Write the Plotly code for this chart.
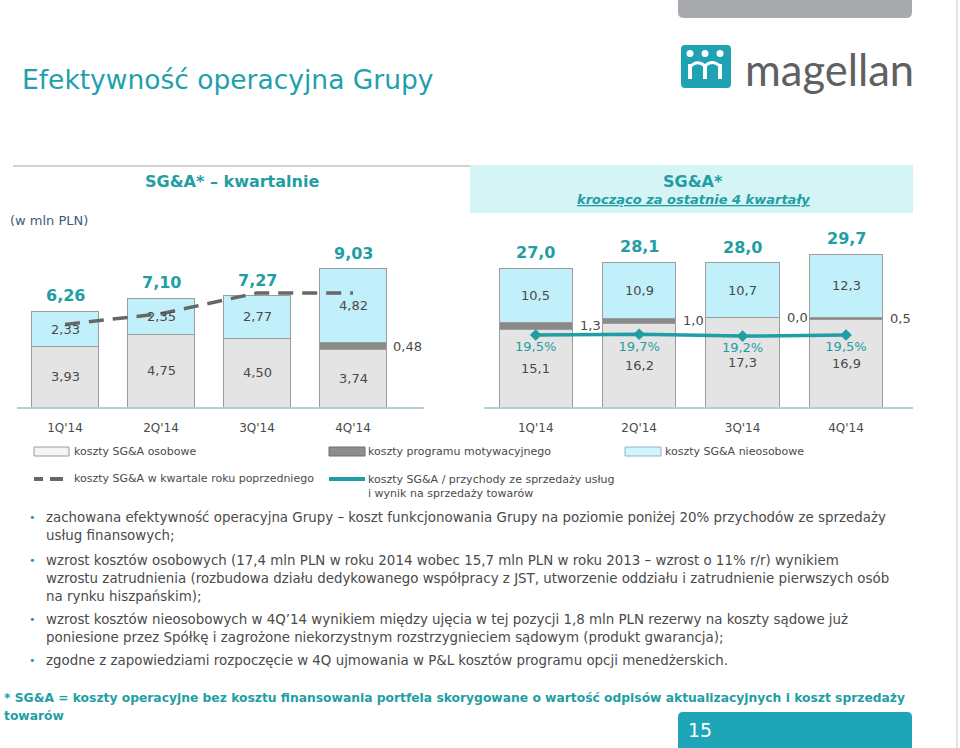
import plotly.graph_objects as go

# ---------------- data ----------------
quarters = ["1Q'14", "2Q'14", "3Q'14", "4Q'14"]

q_osobowe = [3.93, 4.75, 4.50, 3.74]
q_motyw = [None, None, None, 0.48]
q_nieos = [2.33, 2.35, 2.77, 4.82]
q_total = [6.26, 7.10, 7.27, 9.03]
q_prev_year = [5.4, 6.1, 7.45, 7.45]

r_osobowe = [15.1, 16.2, 17.3, 16.9]
r_motyw = [1.3, 1.0, 0.0, 0.5]
r_nieos = [10.5, 10.9, 10.7, 12.3]
r_total = [27.0, 28.1, 28.0, 29.7]
r_ratio = [19.5, 19.7, 19.2, 19.5]

legend_labels = ["koszty SG&A osobowe", "koszty programu motywacyjnego", "koszty SG&A nieosobowe",
                 "koszty SG&A w kwartale roku poprzedniego",
                 "koszty SG&A / przychody ze sprzedaży usług<br>i wynik na sprzedaży towarów"]

bullets = [
    ["zachowana efektywność operacyjna Grupy – koszt funkcjonowania Grupy na poziomie poniżej 20% przychodów ze sprzedaży",
     "usług finansowych;"],
    ["wzrost kosztów osobowych (17,4 mln PLN w roku 2014 wobec 15,7 mln PLN w roku 2013 – wzrost o 11% r/r) wynikiem",
     "wzrostu zatrudnienia (rozbudowa działu dedykowanego współpracy z JST, utworzenie oddziału i zatrudnienie pierwszych osób",
     "na rynku hiszpańskim);"],
    ["wzrost kosztów nieosobowych w 4Q’14 wynikiem między ujęcia w tej pozycji 1,8 mln PLN rezerwy na koszty sądowe już",
     "poniesione przez Spółkę i zagrożone niekorzystnym rozstrzygnieciem sądowym (produkt gwarancja);"],
    ["zgodne z zapowiedziami rozpoczęcie w 4Q ujmowania w P&L kosztów programu opcji menedżerskich."],
]

# ---------------- style ----------------
W, H = 960, 748
FONT = "DejaVu Sans"
TEAL = "#1f9ea3"
GRAY_TXT = "#4a4a4a"
C_OSOB = "#e4e4e4"
C_MOT = "#8a8a8a"
C_NIEOS = "#c2f0fa"
C_EDGE = "#9c9c9c"


def px(x):
    return x / W


def py(y):
    return 1 - y / H


def fmt(v, d):
    return f"{v:.{d}f}".replace(".", ",")


fig = go.Figure()

# ---------- left chart (quarterly) ----------
fig.add_trace(go.Bar(x=quarters, y=q_osobowe, xaxis="x", yaxis="y", width=0.69,
                     marker=dict(color=C_OSOB, line=dict(color=C_EDGE, width=1)), showlegend=False))
fig.add_trace(go.Bar(x=quarters, y=q_motyw, xaxis="x", yaxis="y", width=0.69,
                     marker=dict(color=C_MOT, line=dict(color=C_EDGE, width=1)), showlegend=False))
fig.add_trace(go.Bar(x=quarters, y=q_nieos, xaxis="x", yaxis="y", width=0.69,
                     marker=dict(color=C_NIEOS, line=dict(color=C_EDGE, width=1)), showlegend=False))
fig.add_trace(go.Scatter(x=quarters, y=q_prev_year, xaxis="x", yaxis="y", mode="lines",
                         line=dict(color="#676767", width=3.5, dash="15px,9px"), showlegend=False))

# ---------- right chart (rolling 4Q) ----------
fig.add_trace(go.Bar(x=quarters, y=r_osobowe, xaxis="x2", yaxis="y2", width=0.71,
                     marker=dict(color=C_OSOB, line=dict(color=C_EDGE, width=1)), showlegend=False))
fig.add_trace(go.Bar(x=quarters, y=r_motyw, xaxis="x2", yaxis="y2", width=0.71,
                     marker=dict(color=C_MOT, line=dict(color=C_EDGE, width=1)), showlegend=False))
fig.add_trace(go.Bar(x=quarters, y=r_nieos, xaxis="x2", yaxis="y2", width=0.71,
                     marker=dict(color=C_NIEOS, line=dict(color=C_EDGE, width=1)), showlegend=False))
fig.add_trace(go.Scatter(x=quarters, y=r_ratio, xaxis="x2", yaxis="y3", mode="lines+markers+text",
                         line=dict(color=TEAL, width=3.5),
                         marker=dict(symbol="diamond", size=9, color=TEAL),
                         text=[fmt(v, 1) + "%" for v in r_ratio], textposition="bottom center",
                         textfont=dict(family=FONT, size=13, color=TEAL), showlegend=False))

ann = []


def seg_labels(xref, yref, osob, mot, nieos, tot, dec, shift):
    for i, q in enumerate(quarters):
        m = mot[i] if mot[i] is not None else 0
        ann.append(dict(x=q, y=osob[i] / 2, xref=xref, yref=yref, text=fmt(osob[i], dec), showarrow=False,
                        font=dict(family=FONT, size=13, color=GRAY_TXT)))
        ann.append(dict(x=q, y=osob[i] + m + nieos[i] / 2, xref=xref, yref=yref, text=fmt(nieos[i], dec),
                        showarrow=False, font=dict(family=FONT, size=13, color=GRAY_TXT)))
        if mot[i] is not None:
            ann.append(dict(x=q, y=osob[i] + m / 2, xref=xref, yref=yref, text=fmt(mot[i], dec),
                            showarrow=False, xanchor="left", xshift=shift,
                            font=dict(family=FONT, size=13, color=GRAY_TXT)))
        ann.append(dict(x=q, y=osob[i] + m + nieos[i], xref=xref, yref=yref, text="<b>" + fmt(tot[i], dec) + "</b>",
                        showarrow=False, yanchor="bottom", yshift=4,
                        font=dict(family=FONT, size=16, color=TEAL)))


seg_labels("x", "y", q_osobowe, q_motyw, q_nieos, q_total, 2, 38)
seg_labels("x2", "y2", r_osobowe, r_motyw, r_nieos, r_total, 1, 42)


def txt(x, y, s, size=13, color=GRAY_TXT, anchor="left", family=FONT, yanchor="middle"):
    ann.append(dict(x=px(x), y=py(y), xref="paper", yref="paper", text=s, showarrow=False,
                    xanchor=anchor, yanchor=yanchor, align="left",
                    font=dict(family=family, size=size, color=color)))


# title & headers
txt(20, 80, "Efektywność operacyjna Grupy", size=26.5, color="#1fa0ad")
txt(232, 182, "<b>SG&A* – kwartalnie</b>", size=16, color=TEAL, anchor="center")
txt(693, 182, "<b>SG&A*</b>", size=16, color=TEAL, anchor="center")
txt(693, 200, "<b><i><u>krocząco za ostatnie 4 kwartały</u></i></b>", size=13, color=TEAL, anchor="center")
txt(8, 220, "(w mln PLN)", size=13, color="#3d5a80")

# logo text
txt(743, 69, "magellan", size=43.5, color="#5f6062", family="Lato")

# legend
txt(72, 451, legend_labels[0], size=11)
txt(366, 451, legend_labels[1], size=11)
txt(663, 451, legend_labels[2], size=11)
txt(72, 478, legend_labels[3], size=11)
ann.append(dict(x=px(366), y=py(471), xref="paper", yref="paper", text=legend_labels[4], showarrow=False,
                xanchor="left", yanchor="top", align="left",
                font=dict(family=FONT, size=11, color=GRAY_TXT)))

# bullets
y0 = [517, 560, 619, 660]
for b, yy in zip(bullets, y0):
    txt(27, yy, "•", size=11, color=TEAL)
    for j, line in enumerate(b):
        txt(44, yy + 18 * j, line, size=13.4, color=GRAY_TXT)

# footnote
txt(2, 698, "<b>* SG&A = koszty operacyjne bez kosztu finansowania portfela skorygowane o wartość odpisów aktualizacyjnych i koszt sprzedaży</b>",
    size=12.3, color=TEAL)
txt(2, 716, "<b>towarów</b>", size=12.3, color=TEAL)

# page number
txt(686, 730, "15", size=19, color="white")

# ---------------- shapes ----------------
shapes = []


def rect(x0, y0, x1, y1, fill, line=None, lw=1):
    shapes.append(dict(type="rect", xref="paper", yref="paper", x0=px(x0), x1=px(x1), y0=py(y1), y1=py(y0),
                       fillcolor=fill, line=dict(color=line or fill, width=lw if line else 0), layer="below"))


def hline(x0, x1, y, color, w, dash=None):
    shapes.append(dict(type="line", xref="paper", yref="paper", x0=px(x0), x1=px(x1), y0=py(y), y1=py(y),
                       line=dict(color=color, width=w, dash=dash)))


def rounded(x0, y0, x1, y1, r, fill):
    p = (f"M {px(x0 + r)} {py(y0)} L {px(x1 - r)} {py(y0)} Q {px(x1)} {py(y0)} {px(x1)} {py(y0 + r)} "
         f"L {px(x1)} {py(y1 - r)} Q {px(x1)} {py(y1)} {px(x1 - r)} {py(y1)} "
         f"L {px(x0 + r)} {py(y1)} Q {px(x0)} {py(y1)} {px(x0)} {py(y1 - r)} "
         f"L {px(x0)} {py(y0 + r)} Q {px(x0)} {py(y0)} {px(x0 + r)} {py(y0)} Z")
    shapes.append(dict(type="path", xref="paper", yref="paper", path=p, fillcolor=fill,
                       line=dict(width=0), layer="below"))


# top grey tab
rounded(678, -10, 912, 18, 6, "#a8aaad")
# page number box
rounded(678, 712, 912, 760, 5, "#1ea6b8")
# logo box
rounded(681, 45, 731, 88, 4, "#1fa3b3")
for cx in [690, 705, 720]:
    shapes.append(dict(type="circle", xref="paper", yref="paper", x0=px(cx - 3.5), x1=px(cx + 3.5),
                       y0=py(57), y1=py(50), fillcolor="white", line=dict(width=0)))
    shapes.append(dict(type="line", xref="paper", yref="paper", x0=px(cx), x1=px(cx), y0=py(79), y1=py(64),
                       line=dict(color="white", width=4)))
arch = (f"M {px(690)} {py(67)} Q {px(697)} {py(59)} {px(705)} {py(66)} "
        f"Q {px(712)} {py(59)} {px(720)} {py(66)}")
shapes.append(dict(type="path", xref="paper", yref="paper", path=arch, line=dict(color="white", width=3)))

# header decorations
hline(13, 470, 166, "#cfd2d4", 2)
rect(470, 165, 913, 213, "#d5f4f6")
# right border line
shapes.append(dict(type="line", xref="paper", yref="paper", x0=px(957), x1=px(957), y0=0, y1=1,
                   line=dict(color="#e2e2e2", width=2)))

# legend swatches
rect(34, 447, 69, 456, "#f4f4f4", "#9a9a9a", 1)
rect(329, 447, 365, 456, "#8e8e8e", "#6f6f6f", 1)
rect(625, 447, 661, 456, "#d3f4fa", "#8fb6c4", 1)
hline(34, 43, 479, "#676767", 4)
hline(50, 63, 479, "#676767", 4)
hline(329, 365, 479, TEAL, 4)

# ---------------- layout ----------------
y_dom = [py(407), py(230)]
axis_common = dict(showgrid=False, zeroline=False, showline=True, linecolor="#b6ced6", linewidth=2,
                   ticks="outside", ticklen=9, tickcolor="rgba(0,0,0,0)",
                   tickfont=dict(family=FONT, size=12, color=GRAY_TXT), fixedrange=True)

fig.update_layout(
    width=W, height=H, margin=dict(l=0, r=0, t=0, b=0),
    paper_bgcolor="white", plot_bgcolor="white",
    barmode="stack", showlegend=False,
    xaxis=dict(domain=[px(17), px(424)], anchor="y", **axis_common),
    yaxis=dict(domain=y_dom, range=[0, 177 / 15.3], visible=False, anchor="x"),
    xaxis2=dict(domain=[px(484), px(913)], anchor="y2", **axis_common),
    yaxis2=dict(domain=y_dom, range=[0, 177 / 5.15], visible=False, anchor="x2"),
    yaxis3=dict(range=[0, 19.5 * 177 / 72], overlaying="y2", visible=False, anchor="x2"),
    annotations=ann, shapes=shapes,
)

fig.write_html("out.html")
